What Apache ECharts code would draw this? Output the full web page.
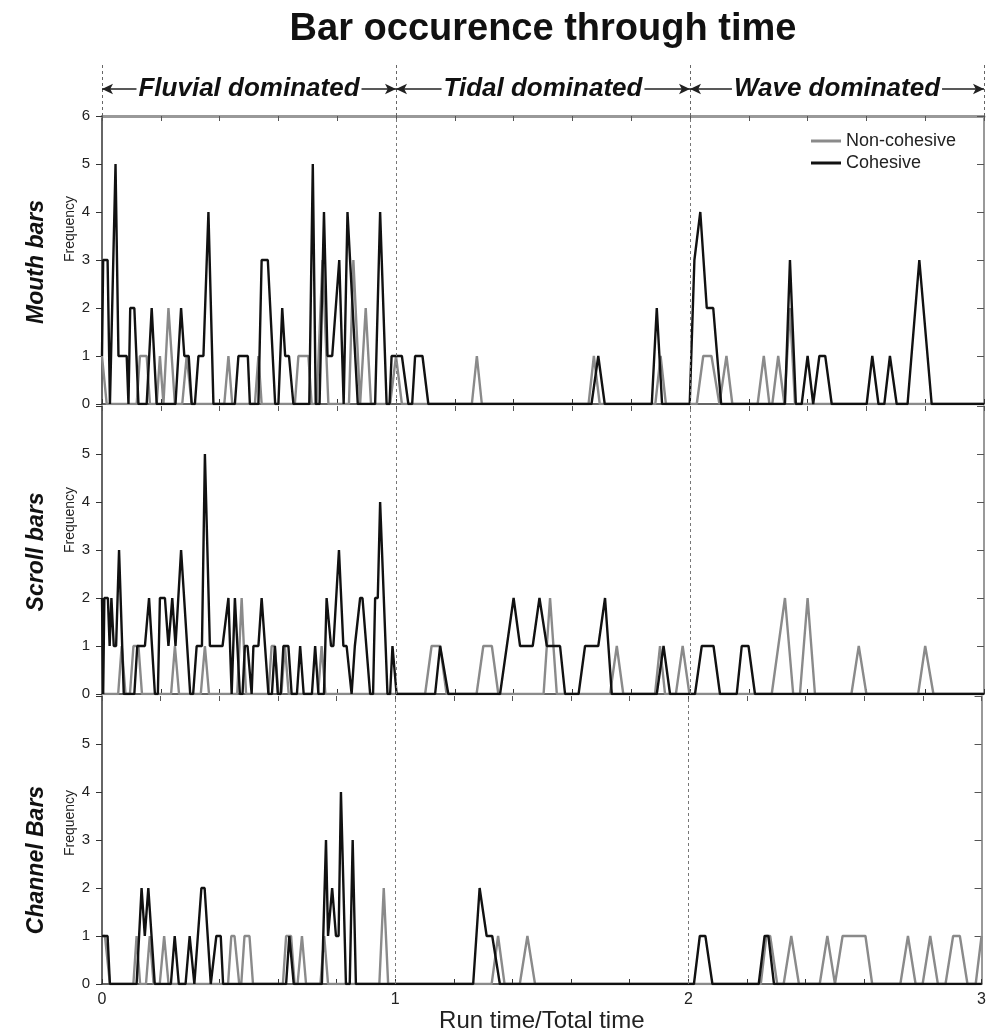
<!DOCTYPE html>
<html>
<head>
<meta charset="utf-8">
<script src="https://cdn.jsdelivr.net/npm/echarts@6/dist/echarts.min.js"></script>
<style>
html, body { margin: 0; padding: 0; background: #fff; }
#chart { width: 989px; height: 1034px; }
</style>
</head>
<body>
<div id="chart"></div>
<script>
// panel + regime labels
var panelNames = ['Mouth bars', 'Scroll bars', 'Channel Bars'];
var regimeNames = ['Fluvial dominated', 'Tidal dominated', 'Wave dominated'];
var regimeCentres = [0.5, 1.5, 2.5];
var regimeBounds = [0, 1, 2, 3];
var seriesNames = ['Non-cohesive', 'Cohesive'];

// [run time / total time, frequency] vertices
var mouthNonCohesive = [[0,1],[0.016,0],[0.118,0],[0.129,1],[0.152,1],[0.163,0],[0.186,0],[0.197,1],[0.209,0],[0.226,2],[0.248,0],[0.273,0],[0.288,1],[0.305,0],[0.416,0],[0.43,1],[0.443,0],[0.52,0],[0.532,1],[0.543,0],[0.656,0],[0.668,1],[0.702,1],[0.713,0],[0.73,0],[0.75,3],[0.77,0],[0.84,0],[0.855,3],[0.878,0],[0.897,2],[0.915,0],[0.98,0],[1.0,1],[1.02,0],[1.258,0],[1.275,1],[1.292,0],[1.655,0],[1.673,1],[1.693,0],[1.882,0],[1.9,1],[1.918,0],[2.023,0],[2.045,1],[2.073,1],[2.1,0],[2.105,0],[2.124,1],[2.144,0],[2.23,0],[2.251,1],[2.27,0],[2.28,0],[2.3,1],[2.321,0],[2.34,2],[2.357,0],[3,0]];
var mouthCohesive = [[0,1],[0.004,3],[0.019,3],[0.027,0],[0.046,5],[0.056,1],[0.084,1],[0.09,0],[0.096,2],[0.11,2],[0.124,0],[0.152,0],[0.169,2],[0.186,0],[0.25,0],[0.269,2],[0.28,1],[0.295,1],[0.305,0],[0.316,0],[0.328,1],[0.345,1],[0.362,4],[0.379,0],[0.452,0],[0.464,1],[0.496,1],[0.503,0],[0.532,0],[0.543,3],[0.564,3],[0.589,0],[0.6,0],[0.613,2],[0.623,1],[0.636,1],[0.651,0],[0.705,0],[0.717,5],[0.727,0],[0.74,0],[0.755,4],[0.767,1],[0.783,1],[0.807,3],[0.822,0],[0.835,4],[0.87,0],[0.929,0],[0.946,4],[0.968,0],[0.978,0],[0.985,1],[1.02,1],[1.042,0],[1.055,0],[1.065,1],[1.09,1],[1.11,0],[1.665,0],[1.688,1],[1.71,0],[1.87,0],[1.887,2],[1.905,0],[1.999,0],[2.015,3],[2.035,4],[2.057,2],[2.079,2],[2.106,0],[2.323,0],[2.34,3],[2.36,0],[2.38,0],[2.4,1],[2.419,0],[2.44,1],[2.46,1],[2.482,0],[2.601,0],[2.62,1],[2.641,0],[2.661,0],[2.68,1],[2.703,0],[2.74,0],[2.78,3],[2.822,0],[3,0]];

var scrollNonCohesive = [[0,0],[0.055,0],[0.067,1],[0.08,0],[0.095,0],[0.107,1],[0.124,1],[0.136,0],[0.235,0],[0.248,1],[0.262,0],[0.336,0],[0.35,1],[0.364,0],[0.46,0],[0.475,2],[0.49,0],[0.566,0],[0.577,1],[0.588,1],[0.6,0],[0.61,0],[0.622,1],[0.635,0],[0.735,0],[0.747,1],[0.76,0],[1.099,0],[1.121,1],[1.15,1],[1.172,0],[1.274,0],[1.297,1],[1.326,1],[1.348,0],[1.502,0],[1.524,2],[1.547,0],[1.728,0],[1.751,1],[1.773,0],[1.881,0],[1.898,1],[1.915,0],[1.952,0],[1.975,1],[1.998,0],[2.278,0],[2.323,2],[2.351,0],[2.374,0],[2.4,2],[2.425,0],[2.549,0],[2.574,1],[2.6,0],[2.776,0],[2.8,1],[2.828,0],[3,0]];
var scrollCohesive = [[0,2],[0.004,0],[0.008,2],[0.02,2],[0.026,1],[0.032,2],[0.04,1],[0.048,1],[0.058,3],[0.074,0],[0.11,0],[0.12,1],[0.146,1],[0.16,2],[0.18,0],[0.19,0],[0.197,2],[0.214,2],[0.226,1],[0.239,2],[0.25,1],[0.269,3],[0.3,0],[0.31,0],[0.322,1],[0.34,1],[0.35,5],[0.367,1],[0.41,1],[0.43,2],[0.441,0],[0.452,2],[0.469,0],[0.478,0],[0.486,1],[0.495,1],[0.509,0],[0.515,1],[0.532,1],[0.543,2],[0.566,0],[0.578,0],[0.588,1],[0.598,0],[0.608,0],[0.617,1],[0.634,1],[0.645,0],[0.663,0],[0.674,1],[0.686,0],[0.714,0],[0.725,1],[0.736,0],[0.755,0],[0.764,2],[0.779,1],[0.787,1],[0.806,3],[0.821,1],[0.832,1],[0.849,0],[0.86,1],[0.878,2],[0.886,2],[0.912,0],[0.922,0],[0.929,2],[0.938,2],[0.946,4],[0.971,0],[0.98,0],[0.988,1],[1.002,0],[1.133,0],[1.15,1],[1.178,0],[1.354,0],[1.4,2],[1.422,1],[1.465,1],[1.488,2],[1.513,1],[1.558,1],[1.575,0],[1.621,0],[1.643,1],[1.688,1],[1.711,2],[1.734,0],[1.887,0],[1.91,1],[1.932,0],[2.017,0],[2.04,1],[2.08,1],[2.102,0],[2.159,0],[2.176,1],[2.199,1],[2.221,0],[3,0]];

var channelNonCohesive = [[0,1],[0.01,1],[0.027,0],[0.107,0],[0.118,1],[0.13,0],[0.15,0],[0.163,1],[0.176,0],[0.197,0],[0.212,1],[0.227,0],[0.43,0],[0.441,1],[0.452,1],[0.468,0],[0.475,0],[0.486,1],[0.503,1],[0.515,0],[0.617,0],[0.628,1],[0.645,1],[0.657,0],[0.667,0],[0.682,1],[0.696,0],[0.745,0],[0.758,1],[0.771,0],[0.946,0],[0.961,2],[0.976,0],[1.329,0],[1.351,1],[1.373,0],[1.425,0],[1.451,1],[1.477,0],[2.247,0],[2.266,1],[2.279,1],[2.303,0],[2.325,0],[2.351,1],[2.377,0],[2.448,0],[2.474,1],[2.5,0],[2.526,1],[2.604,1],[2.627,0],[2.723,0],[2.749,1],[2.775,0],[2.799,0],[2.825,1],[2.851,0],[2.877,0],[2.903,1],[2.926,1],[2.952,0],[2.98,0],[3,1]];
var channelCohesive = [[0,1],[0.019,1],[0.027,0],[0.118,0],[0.135,2],[0.146,1],[0.158,2],[0.18,0],[0.235,0],[0.248,1],[0.262,0],[0.285,0],[0.299,1],[0.315,0],[0.339,2],[0.35,2],[0.371,0],[0.375,0],[0.39,1],[0.405,1],[0.413,0],[0.628,0],[0.639,1],[0.654,0],[0.75,0],[0.764,3],[0.771,1],[0.785,2],[0.798,1],[0.807,1],[0.815,4],[0.832,0],[0.845,0],[0.855,3],[0.866,0],[1.266,0],[1.288,2],[1.312,1],[1.331,1],[1.357,0],[2.019,0],[2.039,1],[2.058,1],[2.082,0],[2.24,0],[2.26,1],[2.273,1],[2.292,0],[3,0]];

var panelData = [
    [mouthNonCohesive, mouthCohesive],
    [scrollNonCohesive, scrollCohesive],
    [channelNonCohesive, channelCohesive]
];

var FONT = "'Liberation Sans', Arial, sans-serif";
var GRAY = '#8a8a8a';
var BLACK = '#111';

var gridLeft = 102, gridWidth = 882;
var panelTops = [116, 406, 696];
var panelHeight = 288;

function isInt(v) { return Math.abs(v - Math.round(v)) < 1e-6; }

var grids = [], xAxes = [], yAxes = [], series = [];

panelTops.forEach(function (top, i) {
    grids.push({ left: gridLeft, width: gridWidth, top: top, height: panelHeight });
});
// header strip with the regime arrows
grids.push({ left: gridLeft, width: gridWidth, top: 62, height: 54 });

// bottom x axes (0..2)
panelTops.forEach(function (top, i) {
    xAxes.push({
        gridIndex: i, type: 'value', min: 0, max: 3, interval: 0.2,
        axisLine: { onZero: false, lineStyle: { color: '#333', width: 1.5 } },
        axisTick: { inside: true, length: 5, lineStyle: { color: '#333' } },
        splitLine: { show: false },
        axisLabel: {
            show: i === 2, fontSize: 16, color: '#222', fontFamily: FONT, margin: 8,
            formatter: function (v) { return isInt(v) ? String(Math.round(v)) : ''; }
        },
        name: i === 2 ? 'Run time/Total time' : '',
        nameLocation: 'middle', nameGap: 24,
        nameTextStyle: { fontSize: 24, color: '#222', fontFamily: FONT }
    });
});
// top x axes (3..5)
panelTops.forEach(function (top, i) {
    xAxes.push({
        gridIndex: i, type: 'value', position: 'top', min: 0, max: 3, interval: 0.2,
        axisLine: { show: i === 0, onZero: false, lineStyle: { color: '#999', width: 3 } },
        axisTick: { inside: true, length: 5, lineStyle: { color: '#555' } },
        splitLine: { show: false },
        axisLabel: { show: false }
    });
});
// header x axis (6)
xAxes.push({ gridIndex: 3, type: 'value', min: 0, max: 3, show: false });

// left y axes (0..2)
panelTops.forEach(function (top, i) {
    yAxes.push({
        gridIndex: i, type: 'value', min: 0, max: 6, interval: 1,
        axisLine: { show: true, onZero: false, lineStyle: { color: '#333', width: 1.5 } },
        axisTick: { show: true, length: 6, lineStyle: { color: '#333' } },
        splitLine: { show: false },
        axisLabel: {
            fontSize: 15, color: '#222', fontFamily: FONT, margin: 12,
            formatter: function (v) { return (i > 0 && v === 6) ? '' : String(v); }
        }
    });
});
// right y axes (3..5)
panelTops.forEach(function (top, i) {
    yAxes.push({
        gridIndex: i, type: 'value', position: 'right', min: 0, max: 6, interval: 1,
        axisLine: { show: true, onZero: false, lineStyle: { color: '#777', width: 1.5 } },
        axisTick: { show: true, inside: true, length: 7, lineStyle: { color: '#555' } },
        splitLine: { show: false },
        axisLabel: { show: false }
    });
});
// header y axis (6)
yAxes.push({ gridIndex: 3, type: 'value', min: 0, max: 1, show: false });

panelData.forEach(function (pair, i) {
    series.push({
        name: seriesNames[0], type: 'line', xAxisIndex: i, yAxisIndex: i,
        data: pair[0], symbol: 'none', z: 2,
        lineStyle: { color: GRAY, width: 2.4 }, itemStyle: { color: GRAY },
        markLine: {
            silent: true, symbol: 'none', label: { show: false },
            lineStyle: { color: '#777', width: 1, type: [3, 3] },
            data: [{ xAxis: 1 }, { xAxis: 2 }]
        }
    });
    series.push({
        name: seriesNames[1], type: 'line', xAxisIndex: i, yAxisIndex: i,
        data: pair[1], symbol: 'none', z: 3,
        lineStyle: { color: BLACK, width: 2.4 }, itemStyle: { color: BLACK }
    });
});

// header: dashed regime bounds + double arrows
series.push({
    type: 'line', xAxisIndex: 6, yAxisIndex: 6, data: [], silent: true,
    markLine: {
        silent: true, symbol: 'none', label: { show: false },
        lineStyle: { color: '#666', width: 1, type: [3, 3] },
        data: regimeBounds.map(function (b) { return [{ coord: [b, 0] }, { coord: [b, 1] }]; })
    }
});
series.push({
    type: 'line', xAxisIndex: 6, yAxisIndex: 6, data: [], silent: true,
    markLine: {
        silent: true, symbol: ['arrow', 'arrow'], symbolSize: [8, 11], label: { show: false },
        lineStyle: { color: '#222', width: 1.5, type: 'solid' },
        data: regimeCentres.map(function (c, k) {
            return [{ coord: [regimeBounds[k], 0.5] }, { coord: [regimeBounds[k + 1], 0.5] }];
        })
    }
});
series.push({
    type: 'scatter', xAxisIndex: 6, yAxisIndex: 6, silent: true, z: 10,
    symbolSize: 1, itemStyle: { color: '#fff', opacity: 1 },
    data: regimeCentres.map(function (c, k) { return [c, 0.5, regimeNames[k]]; }),
    label: {
        show: true, position: 'inside',
        formatter: function (p) { return p.data[2]; },
        fontFamily: FONT, fontSize: 26, fontWeight: 'bold', fontStyle: 'italic',
        color: '#111', textBorderWidth: 0, textBorderColor: 'transparent', opacity: 1,
        backgroundColor: '#fff', padding: [0, 2]
    }
});

var graphics = [{
    type: 'text', x: 543, y: 30,
    style: { text: 'Bar occurence through time', font: 'bold 38px ' + FONT, fill: '#111',
             textAlign: 'center', textVerticalAlign: 'middle' }
}];
var nameCentres = [262, 552, 860];
var freqCentres = [229, 520, 823];
panelNames.forEach(function (n, i) {
    graphics.push({
        type: 'text', x: 37, y: nameCentres[i], rotation: Math.PI / 2,
        style: { text: n, font: 'italic bold 23px ' + FONT, fill: '#111',
                 textAlign: 'center', textVerticalAlign: 'middle' }
    });
    graphics.push({
        type: 'text', x: 70, y: freqCentres[i], rotation: Math.PI / 2,
        style: { text: 'Frequency', font: '14px ' + FONT, fill: '#222',
                 textAlign: 'center', textVerticalAlign: 'middle' }
    });
});

var chart = echarts.init(document.getElementById('chart'));
chart.setOption({
    animation: false,
    backgroundColor: '#fff',
    legend: {
        data: seriesNames, orient: 'vertical', left: 806, top: 127,
        icon: 'rect', itemWidth: 30, itemHeight: 3, itemGap: 4,
        textStyle: { fontSize: 18, color: '#222', fontFamily: FONT }
    },
    grid: grids,
    xAxis: xAxes,
    yAxis: yAxes,
    series: series,
    graphic: graphics
});
</script>
</body>
</html>
